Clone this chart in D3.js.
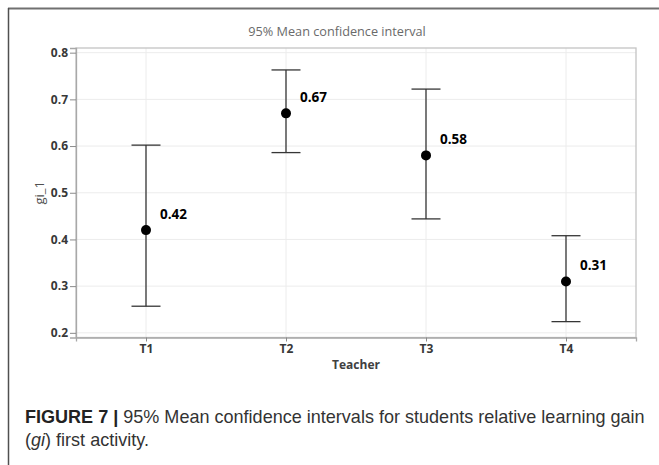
<!DOCTYPE html>
<html>
<head>
<meta charset="utf-8">
<script src="https://cdn.jsdelivr.net/npm/d3@7"></script>
<style>
  html, body { margin: 0; padding: 0; background: #fff; }
  svg { display: block; }
</style>
</head>
<body>
<script>
// Teachers and their 95% confidence intervals for gi_1
const teachers = ["T1", "T2", "T3", "T4"];
const means = [0.42, 0.67, 0.58, 0.31];
const lower = [0.257, 0.586, 0.444, 0.224];
const upper = [0.602, 0.763, 0.722, 0.408];
const yTicks = [0.2, 0.3, 0.4, 0.5, 0.6, 0.7, 0.8];
const yDomain = [0.19, 0.81];

const W = 659, H = 465;
const panel = { left: 76, right: 636, top: 48, bottom: 337.5 };

const svg = d3.select("body").append("svg")
  .attr("width", W).attr("height", H);

// outer figure frame (top and left rules)
svg.append("line").attr("x1", 8).attr("x2", W).attr("y1", 8.5).attr("y2", 8.5)
  .attr("stroke", "#707070").attr("stroke-width", 2);
svg.append("line").attr("x1", 8.5).attr("x2", 8.5).attr("y1", 8).attr("y2", H)
  .attr("stroke", "#505050").attr("stroke-width", 1.5);

const x = d3.scalePoint().domain(teachers)
  .range([panel.left, panel.right]).padding(0.5);
const y = d3.scaleLinear().domain(yDomain)
  .range([panel.bottom, panel.top]);

const font = "'Open Sans', sans-serif";

// gridlines
const grid = svg.append("g");
grid.selectAll("line.h").data(yTicks).join("line")
  .attr("x1", panel.left).attr("x2", panel.right)
  .attr("y1", d => y(d)).attr("y2", d => y(d))
  .attr("stroke", "#ececec").attr("stroke-width", 1);
grid.selectAll("line.v").data(teachers).join("line")
  .attr("x1", d => x(d)).attr("x2", d => x(d))
  .attr("y1", panel.top).attr("y2", panel.bottom)
  .attr("stroke", "#ececec").attr("stroke-width", 1);

// panel border
svg.append("rect")
  .attr("x", panel.left).attr("y", panel.top)
  .attr("width", panel.right - panel.left).attr("height", panel.bottom - panel.top)
  .attr("fill", "none").attr("stroke", "#c4c4c4").attr("stroke-width", 1.3);

// axes
const yAxis = d3.axisLeft(y).tickValues(yTicks).tickFormat(d3.format(".1f"))
  .tickSize(6).tickPadding(2);
const gy = svg.append("g").attr("transform", `translate(${panel.left},0)`).call(yAxis);
gy.select(".domain").attr("stroke", "#a8a8a8").attr("stroke-width", 1.3);
gy.selectAll(".tick line").attr("stroke", "#8a8a8a");
gy.selectAll(".tick text").attr("fill", "#383838")
  .style("font-family", font).style("font-size", "12px").style("font-weight", "700");

const xAxis = d3.axisBottom(x).tickSize(4).tickPadding(3);
const gx = svg.append("g").attr("transform", `translate(0,${panel.bottom})`).call(xAxis);
gx.select(".domain").attr("stroke", "#a8a8a8").attr("stroke-width", 1.3);
gx.selectAll(".tick line").attr("stroke", "#8a8a8a");
gx.selectAll(".tick text").attr("fill", "#383838")
  .style("font-family", font).style("font-size", "12px").style("font-weight", "700");

// titles
svg.append("text").attr("x", 337).attr("y", 36).attr("text-anchor", "middle")
  .attr("fill", "#6a6a6a").style("font-family", font).style("font-size", "12.7px")
  .text("95% Mean confidence interval");

svg.append("text").attr("x", 356).attr("y", 369).attr("text-anchor", "middle")
  .attr("fill", "#404040").style("font-family", font).style("font-size", "12px")
  .style("font-weight", "700").text("Teacher");

svg.append("text").attr("transform", `translate(44,${y(0.5)}) rotate(-90)`)
  .attr("text-anchor", "middle").attr("fill", "#505050")
  .style("font-family", font).style("font-size", "13px").text("gi_1");

// confidence intervals
const rows = teachers.map((t, i) => ({ t, m: means[i], lo: lower[i], hi: upper[i] }));
const capHalf = 14.5;
const bars = svg.append("g").attr("stroke", "#363636").attr("stroke-width", 1.3);
bars.selectAll("line.stem").data(rows).join("line")
  .attr("x1", d => x(d.t)).attr("x2", d => x(d.t))
  .attr("y1", d => y(d.hi)).attr("y2", d => y(d.lo));
bars.selectAll("line.top").data(rows).join("line")
  .attr("x1", d => x(d.t) - capHalf).attr("x2", d => x(d.t) + capHalf)
  .attr("y1", d => y(d.hi)).attr("y2", d => y(d.hi));
bars.selectAll("line.bot").data(rows).join("line")
  .attr("x1", d => x(d.t) - capHalf).attr("x2", d => x(d.t) + capHalf)
  .attr("y1", d => y(d.lo)).attr("y2", d => y(d.lo));

// means
svg.append("g").selectAll("circle").data(rows).join("circle")
  .attr("cx", d => x(d.t)).attr("cy", d => y(d.m)).attr("r", 5)
  .attr("fill", "#000");

svg.append("g").selectAll("text").data(rows).join("text")
  .attr("x", d => x(d.t) + 14).attr("y", d => y(d.m) - 11)
  .attr("fill", "#000").style("font-family", font).style("font-size", "13.5px")
  .style("font-weight", "700").text(d => d3.format(".2f")(d.m));

// figure caption
const capFont = "'Liberation Sans', Arial, sans-serif";
const cap1 = svg.append("text").attr("x", 25).attr("y", 423)
  .style("font-family", capFont).style("font-size", "18.5px").attr("fill", "#333");
cap1.append("tspan").style("font-weight", "700").attr("fill", "#222").text("FIGURE 7 | ");
cap1.append("tspan").text("95% Mean confidence intervals for students relative learning gain");
const cap2 = svg.append("text").attr("x", 25).attr("y", 446)
  .style("font-family", capFont).style("font-size", "18.5px").attr("fill", "#333");
cap2.append("tspan").text("(");
cap2.append("tspan").style("font-style", "italic").text("gi");
cap2.append("tspan").text(") first activity.");

// condense caption lines to the figure's text column width
const capWidth = 620;
const sx = capWidth / cap1.node().getComputedTextLength();
[cap1, cap2].forEach(c => c.attr("transform", `translate(25,0) scale(${sx},1) translate(-25,0)`));
</script>
</body>
</html>
